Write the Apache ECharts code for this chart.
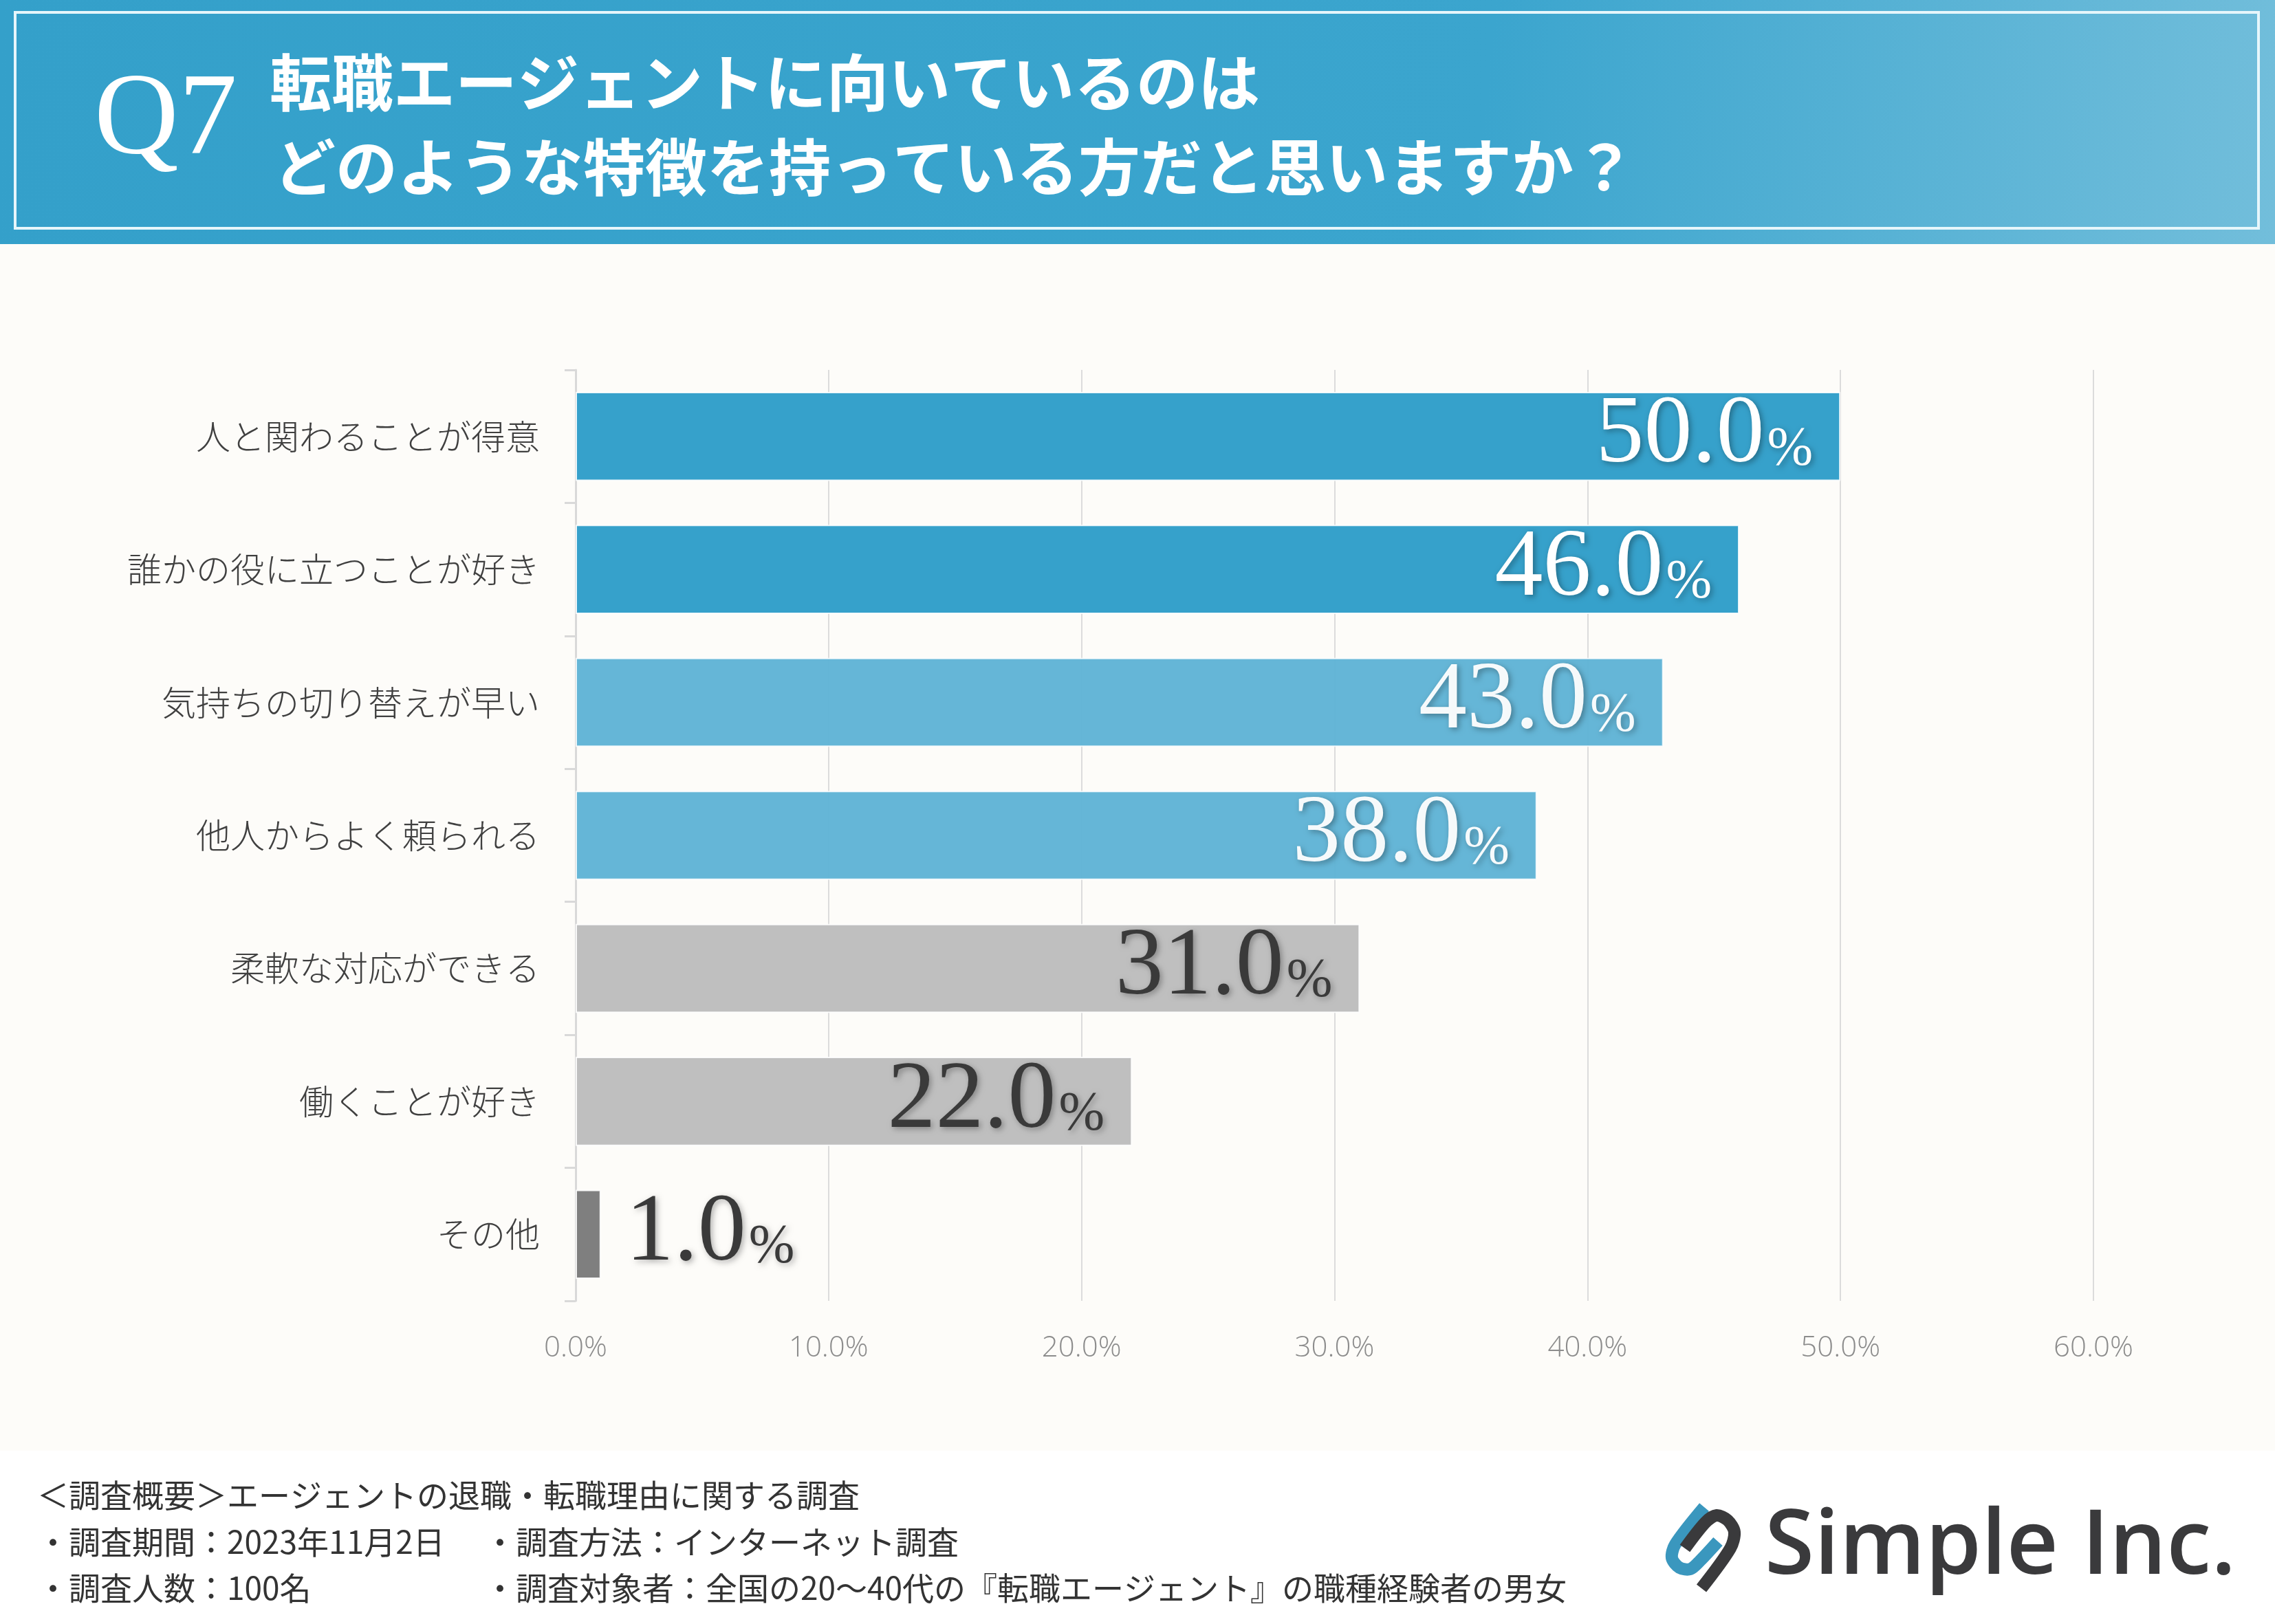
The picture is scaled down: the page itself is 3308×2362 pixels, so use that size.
<!DOCTYPE html>
<html>
<head>
<meta charset="utf-8">
<script src="https://cdn.jsdelivr.net/npm/echarts@6/dist/echarts.min.js"></script>
<style>
  html, body { margin: 0; padding: 0; background: #fff; }
  #main { width: 3308px; height: 2362px; }
</style>
</head>
<body>
<div id="main"></div>
<script>
// データ
var categories = [
  '人と関わることが得意',
  '誰かの役に立つことが好き',
  '気持ちの切り替えが早い',
  '他人からよく頼られる',
  '柔軟な対応ができる',
  '働くことが好き',
  'その他'
];
var values = [50.0, 46.0, 43.0, 38.0, 31.0, 22.0, 1.0];
var barColors = ['#36A1CB', '#36A1CB', '#5DB2D5', '#5DB2D5', '#BFBFBF', '#BFBFBF', '#7F7F7F'];
var labelColors = ['#fff', '#fff', '#fff', '#fff', '#3a3a3a', '#3a3a3a', '#3a3a3a'];
var axisMax = 60;
var axisStep = 10;

var titleLines = ['転職エージェントに向いているのは', 'どのような特徴を持っている方だと思いますか？'];
var footerLines = [
  ['＜調査概要＞エージェントの退職・転職理由に関する調査', ''],
  ['・調査期間：2023年11月2日', '・調査方法：インターネット調査'],
  ['・調査人数：100名', '・調査対象者：全国の20～40代の『転職エージェント』の職種経験者の男女']
];

var jpFont = '"Noto Sans CJK JP", "Noto Sans", sans-serif';
var serifFont = '"Liberation Serif", "DejaVu Serif", serif';

var seriesData = values.map(function (v, i) {
  var outside = v < 5;
  return {
    value: v,
    itemStyle: { color: barColors[i], opacity: i >= 2 && i <= 3 ? 0.95 : 1 },
    label: {
      position: outside ? 'right' : 'insideRight',
      distance: outside ? 36 : 40,
      textShadowColor: labelColors[i] === '#fff' ? 'rgba(0,0,0,0.35)' : 'rgba(0,0,0,0.3)',
      rich: {
        n: { color: labelColors[i] },
        p: { color: labelColors[i] }
      }
    }
  };
});

function txt(x, y, s, fill, font) {
  return { type: 'text', x: x, y: y, silent: true, style: { text: s, fill: fill, font: font, align: 'left', verticalAlign: 'middle' } };
}

// 装飾（ヘッダー・フッター）
var graphics = [
  { type: 'rect', z: -100, shape: { x: 0, y: 355, width: 3308, height: 1755 }, style: { fill: '#FDFCF9' }, silent: true },
  {
    type: 'rect', z: -90, shape: { x: 0, y: 0, width: 3308, height: 355 }, silent: true,
    style: {
      fill: new echarts.graphic.LinearGradient(0, 0, 1, 1, [
        { offset: 0, color: '#34A0CA' },
        { offset: 0.65, color: '#3BA5CE' },
        { offset: 1, color: '#72BEDB' }
      ])
    }
  },
  { type: 'rect', z: -80, shape: { x: 22, y: 18, width: 3262, height: 314 }, silent: true, style: { fill: 'none', stroke: '#E6F6FB', lineWidth: 4 } },
  txt(137, 177, 'Q7', '#fff', '170px ' + serifFont),
  txt(392, 120, titleLines[0], '#fff', 'bold 90px ' + jpFont),
  txt(398, 243, titleLines[1], '#fff', 'bold 90px ' + jpFont)
];
var footY = [2175, 2243, 2310];
footerLines.forEach(function (row, i) {
  graphics.push(txt(54, footY[i], row[0], '#333', '46px ' + jpFont));
  if (row[1]) {
    graphics.push(txt(704, footY[i], row[1], '#333', '46px ' + jpFont));
  }
});
// ロゴ
graphics.push({
  type: 'polyline', silent: true,
  shape: { points: [[2478, 2192], [2436, 2246], [2431, 2266], [2442, 2280], [2458, 2282], [2472, 2270], [2498, 2242]], smooth: 0.3 },
  style: { fill: 'none', stroke: '#3A97BE', lineWidth: 18 }
});
graphics.push({
  type: 'polyline', silent: true,
  shape: { points: [[2450, 2252], [2480, 2214], [2496, 2204], [2512, 2211], [2522, 2228], [2516, 2252], [2474, 2310]], smooth: 0.3 },
  style: { fill: 'none', stroke: '#3A3A3C', lineWidth: 18 }
});
graphics.push(txt(2566, 2252, 'Simple Inc.', '#3A3A3C', '600 131px "Open Sans", "DejaVu Sans", sans-serif'));

var option = {
  backgroundColor: '#fff',
  animation: false,
  graphic: { elements: graphics },
  grid: { left: 837, right: 264, top: 538, bottom: 470, containLabel: false },
  xAxis: {
    type: 'value',
    min: 0,
    max: axisMax,
    interval: axisStep,
    axisLine: { show: false },
    axisTick: { show: false },
    splitLine: { show: true, lineStyle: { color: '#DCDCDC', width: 2 } },
    axisLabel: {
      margin: 48,
      color: '#8C8C8C',
      fontSize: 42,
      fontFamily: '"Open Sans", "Noto Sans", sans-serif',
      fontWeight: 300,
      formatter: function (v) { return v.toFixed(1) + '%'; }
    }
  },
  yAxis: {
    type: 'category',
    inverse: true,
    data: categories,
    axisLine: { show: true, lineStyle: { color: '#D9D9D9', width: 3 } },
    axisTick: { show: true, length: 16, lineStyle: { color: '#D9D9D9', width: 3 } },
    axisLabel: {
      margin: 52,
      color: '#404040',
      fontSize: 50,
      fontFamily: jpFont,
      fontWeight: 300
    }
  },
  series: [{
    type: 'bar',
    data: seriesData,
    barCategoryGap: '33%',
    itemStyle: { borderColor: 'rgba(255,255,255,0.85)', borderWidth: 2 },
    label: {
      show: true,
      textShadowBlur: 8,
      textShadowOffsetX: 3,
      textShadowOffsetY: 3,
      formatter: function (p) { return '{n|' + p.value.toFixed(1) + '}{p|%}'; },
      rich: {
        n: { fontFamily: serifFont, fontSize: 140, lineHeight: 140, verticalAlign: 'bottom' },
        p: { fontFamily: serifFont, fontSize: 80, lineHeight: 80, verticalAlign: 'bottom', padding: [0, 0, 10, 4] }
      }
    }
  }]
};

var chart = echarts.init(document.getElementById('main'));
chart.setOption(option);
</script>
</body>
</html>
